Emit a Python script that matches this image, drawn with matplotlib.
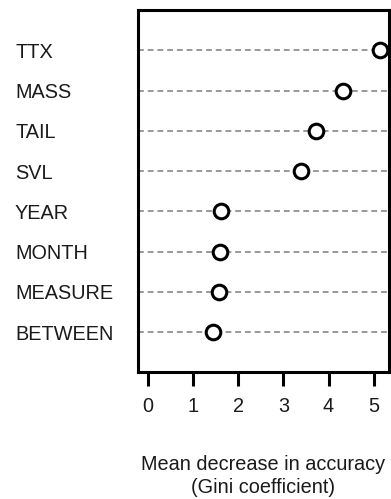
import matplotlib
matplotlib.use("Agg")
import matplotlib.pyplot as plt

variables = ["TTX", "MASS", "TAIL", "SVL", "YEAR", "MONTH", "MEASURE", "BETWEEN"]
importance = [5.13, 4.32, 3.72, 3.40, 1.62, 1.60, 1.58, 1.45]
xticks = [0, 1, 2, 3, 4, 5]

plt.rcParams['font.family'] = ['Liberation Sans', 'DejaVu Sans']
FS = 14.3

fig = plt.figure(figsize=(3.91, 4.99), dpi=100)
ax = fig.add_axes([138.3/391, 1-372.3/499, (388.5-138.3)/391, (372.3-10)/499])

n = len(variables)
ypos = list(range(n, 0, -1))

for y in ypos:
    ax.axhline(y, color='#999999', lw=1.4, dashes=(3, 2), zorder=1)

ax.plot(importance, ypos, linestyle='none', marker='o', markersize=10.5,
        markerfacecolor='white', markeredgecolor='black', markeredgewidth=2.2,
        zorder=3, clip_on=False)

ax.set_xlim(-0.205, 5.325)
ax.set_ylim(0, n + 1)

for s in ax.spines.values():
    s.set_linewidth(2.2)
    s.set_color('black')

ax.set_yticks(ypos)
ax.set_yticklabels(variables, fontsize=FS, ha='left', color='#1a1a1a')
ax.tick_params(axis='y', length=0, pad=(138.3-15)/100*72)

ax.set_xticks(xticks)
ax.set_xticklabels([str(t) for t in xticks], fontsize=FS, color='#1a1a1a')
ax.tick_params(axis='x', length=10, width=2.2, pad=8, color='black')

ax.set_xlabel("Mean decrease in accuracy\n(Gini coefficient)", fontsize=FS,
              labelpad=28, linespacing=1.25, color='#1a1a1a')

fig.savefig("out.png", dpi=100)
